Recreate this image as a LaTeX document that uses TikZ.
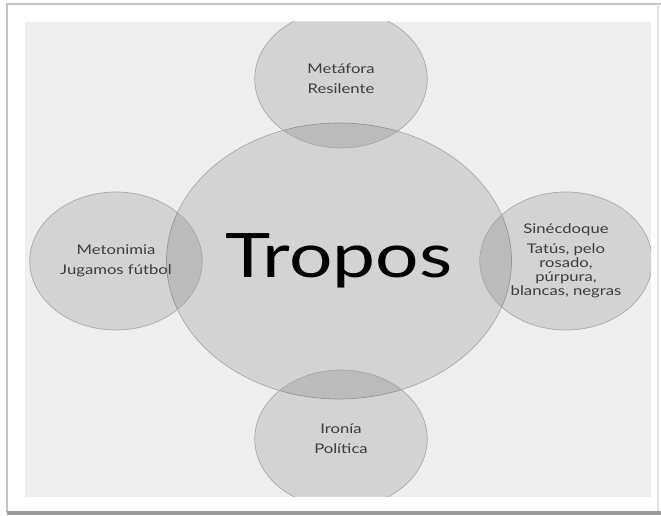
\documentclass[tikz,border=0pt]{standalone}
\usepackage{fontspec}
\setmainfont{Lato}
\definecolor{paneback}{HTML}{EEEEEE}
\definecolor{framegray}{HTML}{C4C4C4}
\definecolor{labelgray}{HTML}{3C3C3C}
\tikzset{bubble/.style = {circle, fill=black, fill opacity=0.11, text opacity=1,
                          draw=black!35, line width=0.5pt, text=labelgray,
                          transform shape, align=center, inner sep=0pt,
                          minimum size=103.5pt, font=\fontsize{10}{15}\selectfont}}
\tikzset{hub/.style = {bubble, minimum size=207pt, text=black,
                       font=\fontsize{46}{46}\selectfont}}

\begin{document}
\begin{tikzpicture}[x=0.6pt, y=-0.75pt, xscale=1.25]
      \fill [white] (0, 0) rectangle (661, 516);
      \useasboundingbox (0, 0) rectangle (661, 516);
      \fill [paneback] (25, 22) rectangle (651, 497);
      \draw [framegray, line width=1.2pt] (7, 512) -- (7, 4) -- (661, 4);
      \draw [framegray!50, line width=0.8pt] (658, 4) -- (658, 512);
      \draw [black!40, line width=3pt] (7, 513.5) -- (661, 513.5);

      \begin{scope}
        \clip (25, 22) rectangle (651, 497);
        \node [hub] (tropos) at (339, 261) {Tropos};
        \node [bubble] (metafora) at (341, 79) {Metáfora\\Resilente};
        \node [bubble] (metonimia) at (116, 261) {Metonimia\\Jugamos fútbol};
        \node [bubble, font=\fontsize{10}{10.4}\selectfont] (sinecdoque) at (566, 261)
              {Sinécdoque\\[4.6pt]Tatús, pelo\\rosado,\\púrpura,\\blancas, negras};
        \node [bubble] (ironia) at (341, 439) {Ironía\\Política};
      \end{scope}
    \end{tikzpicture}
\end{document}
